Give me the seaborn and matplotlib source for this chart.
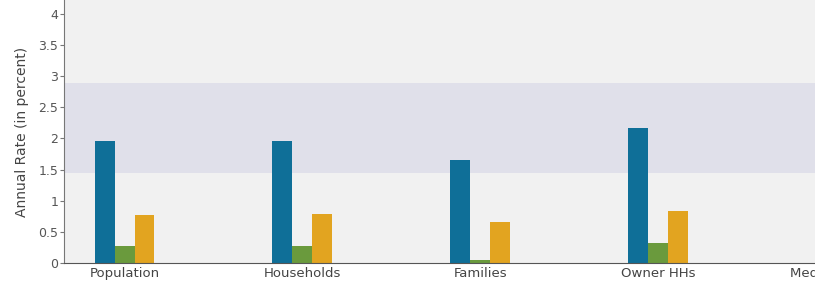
import pandas as pd
import seaborn as sns
import matplotlib.pyplot as plt

# values
categories = ["Population", "Households", "Families", "Owner HHs"]
periods = ["2000-2010", "2010-2015", "2015-2020"]
rate_2000_2010 = [1.96, 1.96, 1.66, 2.17]
rate_2010_2015 = [0.27, 0.27, 0.05, 0.32]
rate_2015_2020 = [0.77, 0.78, 0.65, 0.83]
hidden_label = "Median HH Income"  # fifth category, cut off at the right edge
band_low, band_high = 1.45, 2.89

colors = ["#0f6f98", "#6a9a3d", "#e2a420"]

df = pd.DataFrame({
    "category": categories * 3,
    "period": [periods[0]] * 4 + [periods[1]] * 4 + [periods[2]] * 4,
    "rate": rate_2000_2010 + rate_2010_2015 + rate_2015_2020,
})

sns.set_style("white")
plt.rcParams['font.family'] = ['DejaVu Sans']

fig = plt.figure(figsize=(8.15, 2.84), dpi=100)
fig.patch.set_facecolor("white")
ax = fig.add_axes([64 / 815, 21 / 284, 1 - 64 / 815, 1 - 21 / 284])
ax.set_facecolor("#f1f1f1")

ax.axhspan(band_low, band_high, color="#e0e0ea", zorder=0, lw=0)

sns.barplot(data=df, x="category", y="rate", hue="period", palette=colors,
            saturation=1, width=0.337, gap=0, legend=False, ax=ax, zorder=2,
            edgecolor="none", linewidth=0)

ax.set_xlim(-0.34, 3.88)
ax.set_ylim(0, 4.22)
ax.set_yticks([0, 0.5, 1, 1.5, 2, 2.5, 3, 3.5, 4])
ax.set_yticklabels(["0", "0.5", "1", "1.5", "2", "2.5", "3", "3.5", "4"])
ax.text(4.09, -0.068, hidden_label, ha="center", va="top", fontsize=9.5,
        color="#444444", transform=ax.transData, clip_on=False)

ax.set_xlabel("")
ax.set_ylabel("Annual Rate (in percent)", fontsize=10, color="#444444", labelpad=7)
ax.tick_params(axis="x", length=0, labelsize=9.5, labelcolor="#444444", pad=3)
ax.tick_params(axis="y", length=3, width=0.8, color="#777777", labelsize=9,
               labelcolor="#555555", pad=1, left=True)

for side in ["top", "right"]:
    ax.spines[side].set_visible(False)
ax.spines["left"].set_color("#777777")
ax.spines["bottom"].set_color("#555555")

plt.savefig("out.png", dpi=100)
